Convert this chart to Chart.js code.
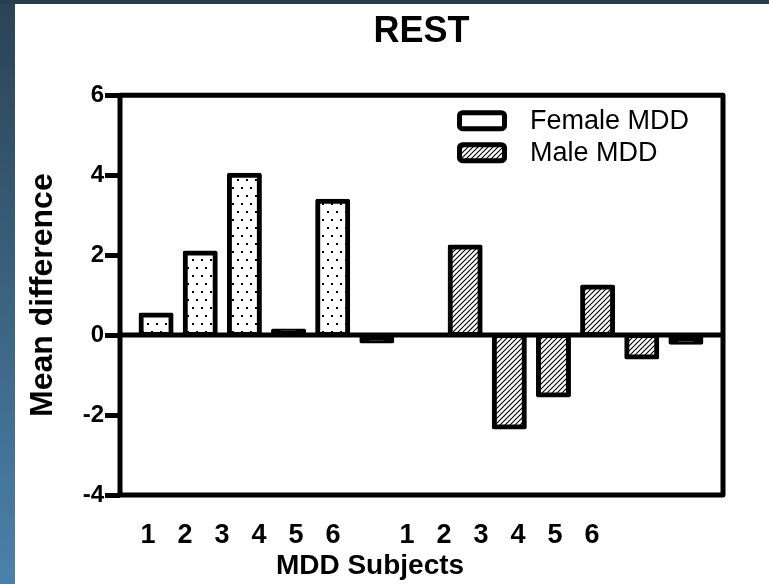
<!DOCTYPE html>
<html>
<head>
<meta charset="utf-8">
<title>REST</title>
<script src="https://cdn.jsdelivr.net/npm/chart.js@4.4.1/dist/chart.umd.min.js"></script>
<style>
  html, body { margin: 0; padding: 0; }
  body {
    width: 769px; height: 584px; overflow: hidden;
    background:
      linear-gradient(#283d4d, #283d4d) 0 0 / 100% 4px no-repeat,
      linear-gradient(#2b4354, #4b81ab) 0 0 / 15px 100% no-repeat,
      #fff;
  }
  canvas { display: block; }
</style>
</head>
<body>
<canvas id="restChart" width="769" height="584"></canvas>
<script>
// REST: mean difference per MDD subject, female vs male
var subjects = ['1', '2', '3', '4', '5', '6'];
var femaleMDD = [0.5, 2.05, 4.0, 0.1, 3.35, -0.15];
var maleMDD = [2.2, -2.3, -1.5, 1.2, -0.55, -0.18];
var yTicks = [-4, -2, 0, 2, 4, 6];

var FONT = '"Liberation Sans", Arial, sans-serif';
var BORDER = 5;

// one empty slot between the two groups
var labels = subjects.concat([''], subjects);
var blanks = subjects.map(function () { return null; });
var femaleData = femaleMDD.concat([null], blanks);
var maleData = blanks.concat([null], maleMDD);

// stipple fill (female)
function dotPattern() {
  var c = document.createElement('canvas');
  c.width = 18; c.height = 16;
  var g = c.getContext('2d');
  g.fillStyle = '#fff';
  g.fillRect(0, 0, 18, 16);
  g.fillStyle = '#000';
  [[3, 3], [12, 3], [7, 11], [16, 11]].forEach(function (p) {
    g.fillRect(p[0], p[1], 2, 2);
  });
  return g.createPattern(c, 'repeat');
}

// diagonal hatch (male)
function hatchPattern() {
  var c = document.createElement('canvas');
  c.width = 5; c.height = 5;
  var g = c.getContext('2d');
  g.fillStyle = '#fff';
  g.fillRect(0, 0, 5, 5);
  g.strokeStyle = '#000';
  g.lineWidth = 1.1;
  g.beginPath();
  g.moveTo(0, 5); g.lineTo(5, 0);
  g.moveTo(-1, 1); g.lineTo(1, -1);
  g.moveTo(4, 6); g.lineTo(6, 4);
  g.stroke();
  return g.createPattern(c, 'repeat');
}

// bars thinner than their border come out solid black, as in Prism
function barFill(pattern) {
  return function (ctx) {
    var y = ctx.chart.scales.y;
    if (ctx.raw == null || !y) return pattern;
    var h = Math.abs(y.getPixelForValue(ctx.raw) - y.getPixelForValue(0));
    return h < 2 * BORDER ? '#000' : pattern;
  };
}

// Prism-like frame, zero line, legend, and the offset tick-label axis
var prismLook = {
  id: 'prismLook',
  afterLayout: function (chart) {
    var area = chart.chartArea;
    var x = chart.scales.x, xl = chart.scales.xl;
    x.left = area.left + 14; x.right = area.right - 15;
    x.width = x.right - x.left; x.configure();
    xl.left = area.left + 9.5; xl.right = area.left + 490.5;
    xl.width = xl.right - xl.left; xl.configure();
  },
  afterDatasetsDraw: function (chart) {
    var ctx = chart.ctx, area = chart.chartArea, y = chart.scales.y;
    ctx.save();
    ctx.strokeStyle = '#000';
    ctx.lineWidth = BORDER;
    ctx.lineJoin = 'round';
    var y0 = y.getPixelForValue(0);
    ctx.beginPath();
    ctx.moveTo(area.left, y0);
    ctx.lineTo(area.right, y0);
    ctx.stroke();
    ctx.strokeRect(area.left, area.top, area.right - area.left, area.bottom - area.top);

    // legend
    var bx = area.left + 339.5, by = area.top + 17.5;
    ctx.font = '27px ' + FONT;
    ctx.textBaseline = 'middle';
    ctx.textAlign = 'left';
    chart.data.datasets.forEach(function (ds, i) {
      var top = by + i * 32;
      ctx.beginPath();
      ctx.roundRect(bx, top, 45, 16, 3);
      ctx.fillStyle = ds.legendFill;
      ctx.fill();
      ctx.lineWidth = BORDER;
      ctx.stroke();
      ctx.fillStyle = '#000';
      ctx.fillText(ds.label, bx + 70.5, top + 8.5);
    });
    ctx.restore();
  }
};

var restCanvas = document.getElementById('restChart');
var dots = dotPattern();
var hatch = hatchPattern();

var restChart = new Chart(restCanvas, {
  type: 'bar',
  data: {
    labels: labels,
    datasets: [{
      label: 'Female MDD',
      data: femaleData,
      xAxisID: 'x',
      backgroundColor: barFill(dots),
      legendFill: '#fff',
    }, {
      label: 'Male MDD',
      data: maleData,
      xAxisID: 'x',
      backgroundColor: barFill(hatch),
      legendFill: hatch,
    }],
  },
  options: {
    responsive: false,
    animation: false,
    events: [],
    layout: { padding: { left: 0, right: 46, top: 0, bottom: 0 } },
    datasets: {
      bar: {
        grouped: false,
        barThickness: 30,
        inflateAmount: 2.5,
        borderWidth: BORDER,
        borderColor: '#000',
        borderRadius: 2,
        borderSkipped: false,
      }
    },
    scales: {
      x: {
        type: 'category',
        offset: true,
        display: false,
      },
      xl: {
        type: 'category',
        position: 'bottom',
        offset: true,
        grid: { display: false, drawTicks: false },
        border: { display: false },
        ticks: {
          color: '#000',
          font: { family: FONT, size: 27, weight: 'bold' },
          padding: 24,
          autoSkip: false,
          maxRotation: 0,
        },
        title: {
          display: true,
          text: 'MDD Subjects',
          color: '#000',
          font: { family: FONT, size: 28, weight: 'bold' },
          padding: { top: 0, bottom: 1 },
        },
        afterFit: function (s) { s.height = 89; },
      },
      y: {
        min: yTicks[0],
        max: yTicks[yTicks.length - 1],
        afterBuildTicks: function (s) {
          s.ticks = yTicks.map(function (v) { return { value: v }; });
        },
        grid: {
          drawOnChartArea: false,
          drawTicks: true,
          tickLength: 15,
          tickWidth: BORDER,
          tickColor: '#000',
        },
        border: { display: false },
        ticks: {
          color: '#000',
          font: { family: FONT, size: 24, weight: 'bold' },
          padding: 1,
        },
        title: {
          display: true,
          text: 'Mean difference',
          color: '#000',
          font: { family: FONT, size: 32, weight: 'bold' },
          padding: { top: 24, bottom: 0 },
        },
        afterFit: function (s) { s.width = 120; },
      }
    },
    plugins: {
      legend: { display: false },
      tooltip: { enabled: false },
      title: {
        display: true,
        text: 'REST',
        fullSize: false,
        color: '#000',
        font: { family: FONT, size: 36, weight: 'bold' },
        padding: { top: 10, bottom: 42 },
      }
    }
  },
  plugins: [prismLook]
});
</script>
</body>
</html>
